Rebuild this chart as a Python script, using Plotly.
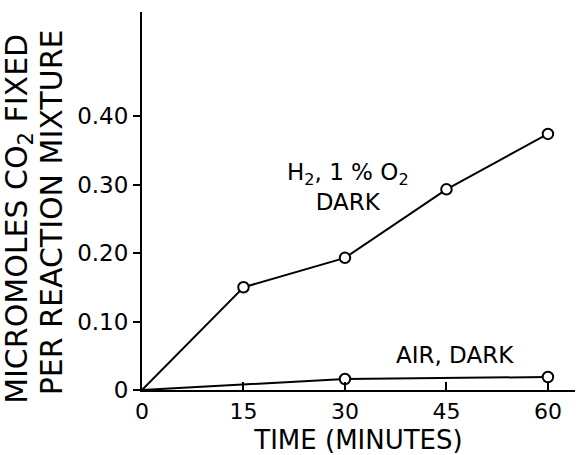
import plotly.graph_objects as go

# Data
time_min = [0, 15, 30, 45, 60]
h2_o2_dark = [0.0, 0.150, 0.193, 0.293, 0.374]

air_time = [0, 30, 60]
air_dark = [0.0, 0.016, 0.019]

y_tickvals = [0, 0.10, 0.20, 0.30, 0.40]
y_ticktext = ["0", "0.10", "0.20", "0.30", "0.40"]
x_tickvals = [0, 15, 30, 45, 60]

FONT = "DejaVu Sans"

fig = go.Figure()

def add_series(xs, ys):
    fig.add_trace(go.Scatter(x=xs, y=ys, mode="lines",
                             line=dict(color="black", width=2),
                             showlegend=False, hoverinfo="skip", cliponaxis=False))
    px = [x for x in xs if x > 0]
    py = [y for x, y in zip(xs, ys) if x > 0]
    fig.add_trace(go.Scatter(x=px, y=py, mode="markers",
                             marker=dict(symbol="circle", size=10.5, color="white",
                                         line=dict(color="black", width=2)),
                             showlegend=False, cliponaxis=False))

add_series(time_min, h2_o2_dark)
add_series(air_time, air_dark)

fig.update_layout(
    width=577, height=455,
    margin=dict(l=142, r=2, t=12, b=65),
    paper_bgcolor="white", plot_bgcolor="white",
    font=dict(family=FONT, color="black", size=22),
    xaxis=dict(range=[0, 64], tickvals=x_tickvals, ticks="inside", ticklen=8,
               tickwidth=1.5, tickcolor="black", showline=True, linecolor="black",
               linewidth=2, showgrid=False, zeroline=False,
               tickfont=dict(size=22), ticklabelstandoff=1,
               title=dict(text="TIME (MINUTES)", font=dict(size=26), standoff=8)),
    yaxis=dict(range=[0, 0.552], tickvals=y_tickvals, ticktext=y_ticktext,
               ticks="outside", ticklen=7, tickwidth=1.5, tickcolor="black",
               showline=True, linecolor="black", linewidth=2, showgrid=False,
               zeroline=False, tickfont=dict(size=23)),
    annotations=[
        dict(text="H<sub>2</sub>, 1 % O<sub>2</sub><br>DARK", x=30.5, y=0.296,
             xref="x", yref="y", showarrow=False, font=dict(size=23),
             xanchor="center", yanchor="middle"),
        dict(text="AIR, DARK", x=46.2, y=0.051, xref="x", yref="y",
             showarrow=False, font=dict(size=23), xanchor="center", yanchor="middle"),
        dict(text="MICROMOLES CO<sub>2</sub> FIXED", x=-0.287, y=0.452,
             xref="paper", yref="paper", showarrow=False, textangle=-90,
             font=dict(size=30), xanchor="center", yanchor="middle"),
        dict(text="PER REACTION MIXTURE", x=-0.207, y=0.471,
             xref="paper", yref="paper", showarrow=False, textangle=-90,
             font=dict(size=30), xanchor="center", yanchor="middle"),
    ],
)

# remove the page's default body margin so the figure sits at the window's corner
fig.write_html("out.html", config={"displayModeBar": False},
               post_script="document.body.style.margin='0';")
